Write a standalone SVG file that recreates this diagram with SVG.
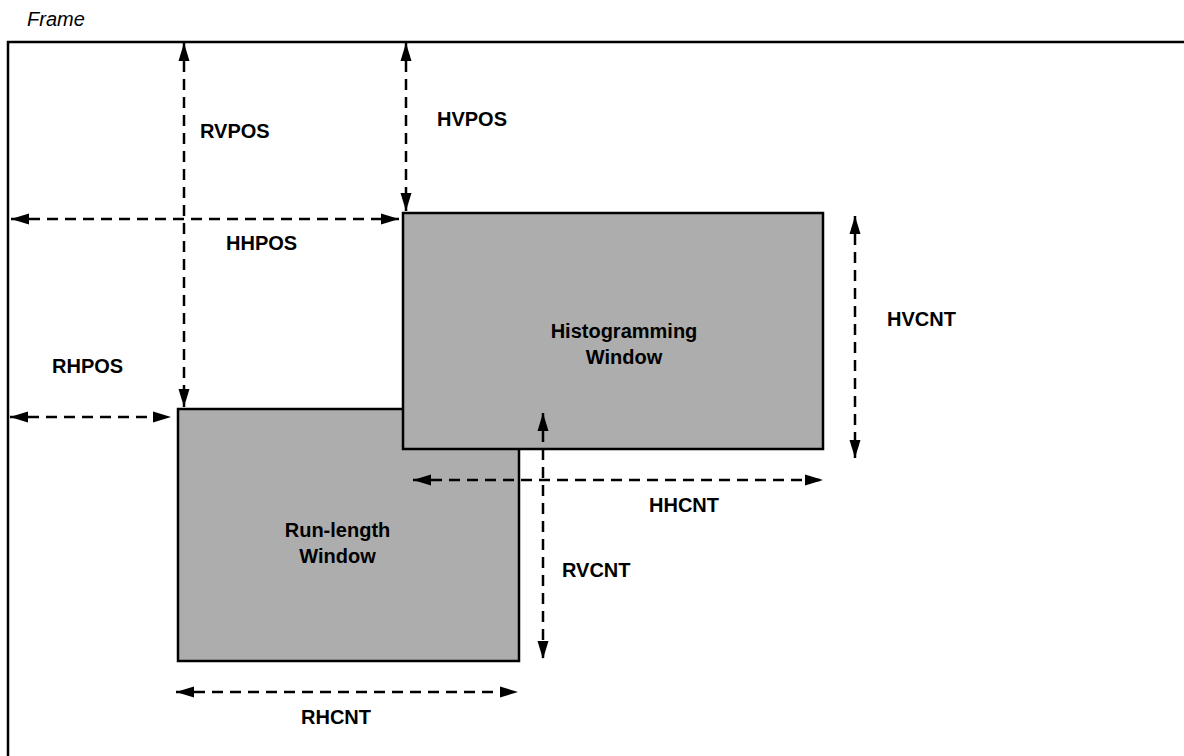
<svg xmlns="http://www.w3.org/2000/svg" width="1184" height="756" viewBox="0 0 1184 756">
<style>
text{font-family:"Liberation Sans",Arial,sans-serif;fill:#000}
.lbl{font-size:20px;font-weight:bold}
.win{font-size:20px;font-weight:bold;text-anchor:middle}
.box{fill:#adadad;stroke:#000;stroke-width:2.5}
.dim{fill:none;stroke:#000;stroke-width:2.5;stroke-dasharray:11 7;marker-start:url(#ah);marker-end:url(#ah)}
</style>
<defs>
<marker id="ah" markerUnits="userSpaceOnUse" markerWidth="20" markerHeight="14" refX="18" refY="6" orient="auto-start-reverse">
<path d="M0,0.5 L18,6 L0,11.5 z" fill="#000"/>
</marker>
</defs>
<rect width="1184" height="756" fill="#fff"/>
<g id="frame">
<text x="27" y="26" style="font-size:20px;font-style:italic">Frame</text>
<rect x="8" y="42" width="1200" height="760" fill="none" stroke="#000" stroke-width="2.5"/>
</g>
<g id="runlength">
<rect class="box" x="178" y="409" width="341" height="252"/>
<text class="win" x="337.5" y="537">Run-length</text>
<text class="win" x="337.5" y="563">Window</text>
</g>
<g id="histogram">
<rect class="box" x="403" y="213" width="420" height="236"/>
<text class="win" x="624" y="338">Histogramming</text>
<text class="win" x="624" y="364">Window</text>
</g>
<g id="connectors">
<line class="dim" x1="184" y1="43" x2="184" y2="407"/>
<line class="dim" x1="406" y1="43" x2="406" y2="211"/>
<line class="dim" x1="11" y1="219" x2="399" y2="219"/>
<line class="dim" x1="10" y1="417" x2="171" y2="417"/>
<line class="dim" x1="855" y1="216" x2="855" y2="458"/>
<line class="dim" x1="413" y1="480" x2="823" y2="480"/>
<line class="dim" x1="543" y1="413" x2="543" y2="659"/>
<line class="dim" x1="176" y1="692" x2="518" y2="692"/>
</g>
<g id="labels">
<text class="lbl" x="200" y="138">RVPOS</text>
<text class="lbl" x="437" y="126">HVPOS</text>
<text class="lbl" x="226" y="250">HHPOS</text>
<text class="lbl" x="52" y="373">RHPOS</text>
<text class="lbl" x="887" y="326">HVCNT</text>
<text class="lbl" x="649" y="512">HHCNT</text>
<text class="lbl" x="562" y="577">RVCNT</text>
<text class="lbl" x="301" y="724">RHCNT</text>
</g>
</svg>
